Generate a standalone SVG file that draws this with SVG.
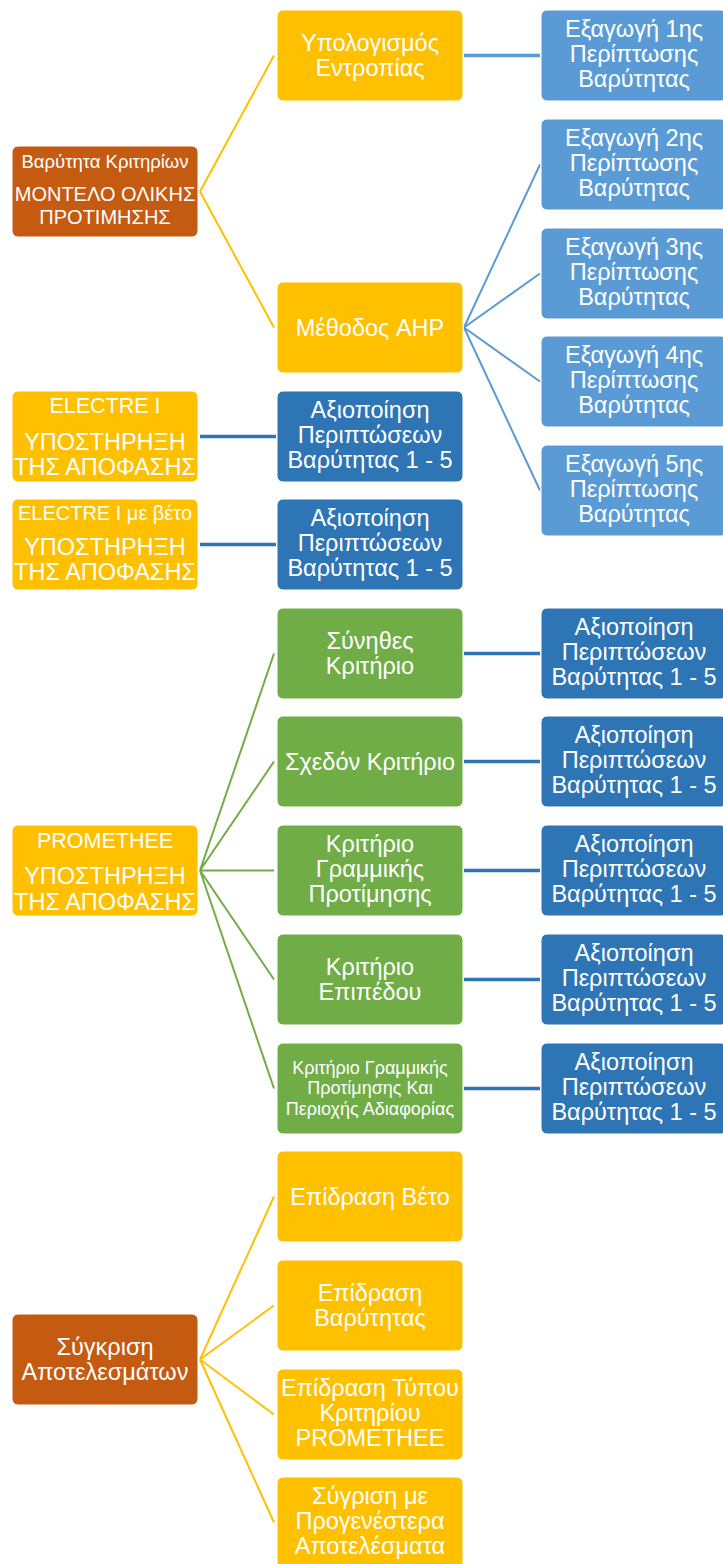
<svg xmlns="http://www.w3.org/2000/svg" width="723" height="1564" viewBox="0 0 723 1564">
<style>
.b{stroke:#fff;stroke-width:1}
.br{fill:#C55A11}.ye{fill:#FFC000}.lb{fill:#5B9BD5}.db{fill:#2E75B6}.gr{fill:#70AD47}
text{font-family:"Liberation Sans",Arial,sans-serif;font-size:23.5px;fill:#fff;text-anchor:middle}
.s{font-size:18.5px}.m{font-size:20px}.e{font-size:21.5px}.v{font-size:20px}.t{font-size:18px}
.cy{stroke:#FFC000;stroke-width:2;fill:none}
.cl{stroke:#5B9BD5;stroke-width:2;fill:none}
.cd{stroke:#2E75B6;stroke-width:3.5;fill:none}
.cg{stroke:#70AD47;stroke-width:2;fill:none}
</style>
<rect width="723" height="1564" fill="#fff"/>
<g id="connectors">
<path class="cy" d="M200 191.5L274 55.5M200 191.5L274 327.5"/>
<path class="cl" d="M464 55.5H540" style="stroke-width:3.5"/>
<path class="cl" d="M464 327.5L540 164.5M464 327.5L540 273.5M464 327.5L540 381.5M464 327.5L540 490.5"/>
<path class="cd" d="M200 436.5H276M200 544.5H276"/>
<path class="cg" d="M200 870.5L274 653.5M200 870.5L274 761.5M200 870.5L274 870.5M200 870.5L274 979.5M200 870.5L274 1088.5"/>
<path class="cd" d="M464 653.5H540M464 761.5H540M464 870.5H540M464 979.5H540M464 1088.5H540"/>
<path class="cy" d="M200 1359.5L274 1196.5M200 1359.5L274 1305.5M200 1359.5L274 1414.5M200 1359.5L274 1522.5"/>
</g>
<g id="n_weights"><rect class="b br" x="12" y="146" width="186" height="91" rx="6"/><text class="s" x="105" y="168">Βαρύτητα Κριτηρίων</text><text class="m" x="105" y="201">ΜΟΝΤΕΛΟ ΟΛΙΚΗΣ</text><text class="m" x="105" y="224">ΠΡΟΤΙΜΗΣΗΣ</text></g>
<g id="n_entropy"><rect class="b ye" x="277" y="10" width="186" height="91" rx="6"/><text x="370" y="51">Υπολογισμός</text><text x="370" y="76">Εντροπίας</text></g>
<g id="n_ahp"><rect class="b ye" x="277" y="282" width="186" height="91" rx="6"/><text x="370" y="336">Μέθοδος AHP</text></g>
<g id="n_ex1"><rect class="b lb" x="541" y="10" width="186" height="91" rx="6"/><text x="634" y="37">Εξαγωγή 1ης</text><text x="634" y="62">Περίπτωσης</text><text x="634" y="87">Βαρύτητας</text></g>
<g id="n_ex2"><rect class="b lb" x="541" y="119" width="186" height="91" rx="6"/><text x="634" y="146">Εξαγωγή 2ης</text><text x="634" y="171">Περίπτωσης</text><text x="634" y="196">Βαρύτητας</text></g>
<g id="n_ex3"><rect class="b lb" x="541" y="228" width="186" height="91" rx="6"/><text x="634" y="255">Εξαγωγή 3ης</text><text x="634" y="280">Περίπτωσης</text><text x="634" y="305">Βαρύτητας</text></g>
<g id="n_ex4"><rect class="b lb" x="541" y="336" width="186" height="91" rx="6"/><text x="634" y="363">Εξαγωγή 4ης</text><text x="634" y="388">Περίπτωσης</text><text x="634" y="413">Βαρύτητας</text></g>
<g id="n_ex5"><rect class="b lb" x="541" y="445" width="186" height="91" rx="6"/><text x="634" y="472">Εξαγωγή 5ης</text><text x="634" y="497">Περίπτωσης</text><text x="634" y="522">Βαρύτητας</text></g>
<g id="n_electre1"><rect class="b ye" x="12" y="391" width="186" height="91" rx="6"/><text class="e" x="105" y="413">ELECTRE I</text><text x="105" y="450">ΥΠΟΣΤΗΡΗΞΗ</text><text x="105" y="475">ΤΗΣ ΑΠΟΦΑΣΗΣ</text></g>
<g id="n_electre1_use"><rect class="b db" x="277" y="391" width="186" height="91" rx="6"/><text x="370" y="418">Αξιοποίηση</text><text x="370" y="443">Περιπτώσεων</text><text x="370" y="468">Βαρύτητας 1 - 5</text></g>
<g id="n_electre2"><rect class="b ye" x="12" y="499" width="186" height="91" rx="6"/><text class="v" x="105" y="520">ELECTRE I με βέτο</text><text x="105" y="555">ΥΠΟΣΤΗΡΗΞΗ</text><text x="105" y="580">ΤΗΣ ΑΠΟΦΑΣΗΣ</text></g>
<g id="n_electre2_use"><rect class="b db" x="277" y="499" width="186" height="91" rx="6"/><text x="370" y="526">Αξιοποίηση</text><text x="370" y="551">Περιπτώσεων</text><text x="370" y="576">Βαρύτητας 1 - 5</text></g>
<g id="n_promethee"><rect class="b ye" x="12" y="825" width="186" height="91" rx="6"/><text class="e" x="105" y="848">PROMETHEE</text><text x="105" y="884">ΥΠΟΣΤΗΡΗΞΗ</text><text x="105" y="910">ΤΗΣ ΑΠΟΦΑΣΗΣ</text></g>
<g id="n_g1"><rect class="b gr" x="277" y="608" width="186" height="91" rx="6"/><text x="370" y="649">Σύνηθες</text><text x="370" y="674">Κριτήριο</text></g>
<g id="n_g2"><rect class="b gr" x="277" y="716" width="186" height="91" rx="6"/><text x="370" y="770">Σχεδόν Κριτήριο</text></g>
<g id="n_g3"><rect class="b gr" x="277" y="825" width="186" height="91" rx="6"/><text x="370" y="852">Κριτήριο</text><text x="370" y="877">Γραμμικής</text><text x="370" y="902">Προτίμησης</text></g>
<g id="n_g4"><rect class="b gr" x="277" y="934" width="186" height="91" rx="6"/><text x="370" y="975">Κριτήριο</text><text x="370" y="1000">Επιπέδου</text></g>
<g id="n_g5"><rect class="b gr" x="277" y="1043" width="186" height="91" rx="6"/><text class="t" x="370" y="1074">Κριτήριο Γραμμικής</text><text class="t" x="370" y="1094">Προτίμησης Και</text><text class="t" x="370" y="1115">Περιοχής Αδιαφορίας</text></g>
<g id="n_u1"><rect class="b db" x="541" y="608" width="186" height="91" rx="6"/><text x="634" y="635">Αξιοποίηση</text><text x="634" y="660">Περιπτώσεων</text><text x="634" y="685">Βαρύτητας 1 - 5</text></g>
<g id="n_u2"><rect class="b db" x="541" y="716" width="186" height="91" rx="6"/><text x="634" y="743">Αξιοποίηση</text><text x="634" y="768">Περιπτώσεων</text><text x="634" y="793">Βαρύτητας 1 - 5</text></g>
<g id="n_u3"><rect class="b db" x="541" y="825" width="186" height="91" rx="6"/><text x="634" y="852">Αξιοποίηση</text><text x="634" y="877">Περιπτώσεων</text><text x="634" y="902">Βαρύτητας 1 - 5</text></g>
<g id="n_u4"><rect class="b db" x="541" y="934" width="186" height="91" rx="6"/><text x="634" y="961">Αξιοποίηση</text><text x="634" y="986">Περιπτώσεων</text><text x="634" y="1011">Βαρύτητας 1 - 5</text></g>
<g id="n_u5"><rect class="b db" x="541" y="1043" width="186" height="91" rx="6"/><text x="634" y="1070">Αξιοποίηση</text><text x="634" y="1095">Περιπτώσεων</text><text x="634" y="1120">Βαρύτητας 1 - 5</text></g>
<g id="n_compare"><rect class="b br" x="12" y="1314" width="186" height="91" rx="6"/><text x="105" y="1355">Σύγκριση</text><text x="105" y="1380">Αποτελεσμάτων</text></g>
<g id="n_c1"><rect class="b ye" x="277" y="1151" width="186" height="91" rx="6"/><text x="370" y="1205">Επίδραση Βέτο</text></g>
<g id="n_c2"><rect class="b ye" x="277" y="1260" width="186" height="91" rx="6"/><text x="370" y="1301">Επίδραση</text><text x="370" y="1326">Βαρύτητας</text></g>
<g id="n_c3"><rect class="b ye" x="277" y="1369" width="186" height="91" rx="6"/><text x="370" y="1396">Επίδραση Τύπου</text><text x="370" y="1421">Κριτηρίου</text><text x="370" y="1446">PROMETHEE</text></g>
<g id="n_c4"><rect class="b ye" x="277" y="1477" width="186" height="91" rx="6"/><text x="370" y="1504">Σύγριση με</text><text x="370" y="1529">Προγενέστερα</text><text x="370" y="1554">Αποτελέσματα</text></g>
</svg>
